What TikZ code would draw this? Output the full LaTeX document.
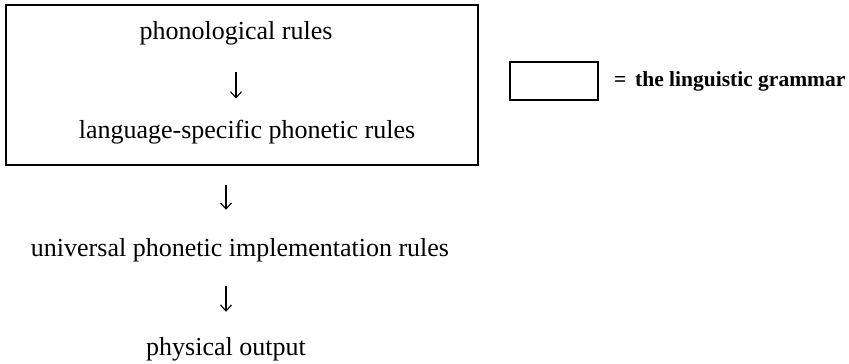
\documentclass[tikz,border=0pt]{standalone}
\usepackage{fontspec}
\setmainfont{Liberation Serif}
\usetikzlibrary{arrows.meta}
\tikzstyle{rule} = [inner sep=0pt, anchor=base, font=\fontsize{26}{31}\selectfont]
\tikzstyle{line} = [draw, line width=1.1pt, -{Straight Barb[length=6pt,width=11pt,line width=1.1pt]}]
\tikzstyle{grammar} = [draw, line width=1.6pt]

\begin{document}
\begin{tikzpicture}[x=1pt, y=-1pt]
    \useasboundingbox (0,0) rectangle (849,364);
    % the linguistic grammar
    \draw [grammar] (6,5) rectangle (478,165);
    \node [rule] (phonological) at (236,39) {phonological rules};
    \node [rule] (specific) at (247,138) {language-specific phonetic rules};
    \node [rule] (universal) at (240,256) {universal phonetic implementation rules};
    \node [rule] (output) at (226,355) {physical output};

    % legend
    \node [grammar, minimum width=88pt, minimum height=38pt, inner sep=0pt] (key) at (554,81) {};
    \node [inner sep=0pt, anchor=west, font=\fontsize{21.5}{26}\selectfont\bfseries] (keytext) at ([xshift=15pt]key.east) {=\, the linguistic grammar};

    \path [line, shorten <=33pt, shorten >=21pt] (phonological.base -| phonological.south) -- (specific.north -| phonological.south);
    \path [line, shorten <=47pt, shorten >=28pt] (specific.base -| output.south) -- (universal.north -| output.south);
    \path [line, shorten <=30pt, shorten >=25pt] (universal.base -| output.south) -- (output.north -| output.south);
\end{tikzpicture}
\end{document}
